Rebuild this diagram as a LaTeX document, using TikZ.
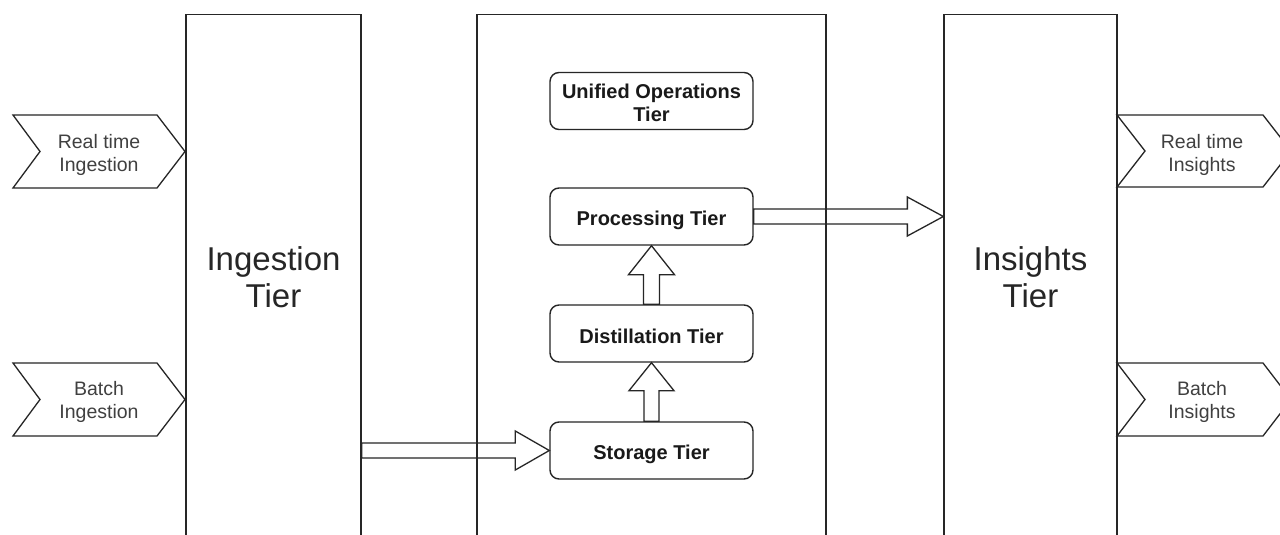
\documentclass[tikz,border=0pt]{standalone}
\usepackage{fontspec}
\setmainfont{Liberation Sans}
\usetikzlibrary{calc}
\newcommand{\lowtxt}[2]{\raisebox{-#1}[\height][\depth]{#2}}
\begin{document}
\begin{tikzpicture}[x=1pt,y=-1pt,
  tall/.style={draw=black!85, line width=1.3pt, minimum width=#1, minimum height=620pt, anchor=north, inner sep=0pt},
  tier/.style={draw=black!85, line width=1.4pt, rounded corners=9pt, minimum width=203pt, minimum height=57pt, inner sep=0pt, align=center, font=\fontsize{20}{23}\selectfont\bfseries, text=black!90},
  chevtxt/.style={align=center, font=\fontsize{19.5}{23}\selectfont, text=black!75, inner sep=0pt},
  bigtxt/.style={align=center, font=\fontsize{33}{37}\selectfont, text=black!85, inner sep=0pt},
  chev/.style={draw=black!85, line width=1.3pt, line join=miter},
  barrow/.style={draw=black!85, line width=1.3pt, line join=miter}]
\clip (0,0) rectangle (1280,535);
\fill[white] (0,0) rectangle (1280,535);

% tall tiers
\node[tall=175pt] (ingest) at (273.5,14) {};
\node[tall=349pt] (mid) at (651.5,14) {};
\node[tall=173pt] (insight) at (1030.5,14) {};
\node[bigtxt] (ingesttxt) at (273.5,277) {Ingestion\\Tier};
\node[bigtxt] (insighttxt) at (1030.5,277) {Insights\\Tier};

% inner tiers
\node[tier] (uni) at (651.5,101) {\lowtxt{1.5pt}{Unified Operations}\\\lowtxt{1.5pt}{Tier}};
\node[tier] (proc) at (651.5,216.5) {\lowtxt{4pt}{Processing Tier}};
\node[tier] (dist) at (651.5,333.5) {\lowtxt{2.5pt}{Distillation Tier}};
\node[tier] (stor) at (651.5,450.5) {\lowtxt{4pt}{Storage Tier}};

% chevrons left
\node[chevtxt] (rti) at (99,154.5) {Real time\\Ingestion};
\draw[chev] ($(rti)+(-86,-39.5)$) -- ++(144,0) -- ++(28,36.5) -- ++(-28,36.5) -- ++(-144,0) -- ++(27,-36.5) -- cycle;
\node[chevtxt] (bi) at (99,402) {Batch\\Ingestion};
\draw[chev] ($(bi)+(-86,-39)$) -- ++(144,0) -- ++(28,36.5) -- ++(-28,36.5) -- ++(-144,0) -- ++(27,-36.5) -- cycle;

% chevrons right
\node[chevtxt] (rtin) at (1202,154.5) {Real time\\Insights};
\draw[chev] ($(rtin)+(-85,-39.5)$) -- ++(146,0) -- ++(28,36) -- ++(-28,36) -- ++(-146,0) -- ++(28,-36) -- cycle;
\node[chevtxt] (bin) at (1202,402) {Batch\\Insights};
\draw[chev] ($(bin)+(-85,-39)$) -- ++(146,0) -- ++(28,36.5) -- ++(-28,36.5) -- ++(-146,0) -- ++(28,-36.5) -- cycle;

% block arrows
\draw[barrow] ($(ingest.east |- stor.west)+(0,-7.5)$) -- ($(stor.west)+(-34,-7.5)$) -- ($(stor.west)+(-34,-19.5)$) -- (stor.west) -- ($(stor.west)+(-34,19.5)$) -- ($(stor.west)+(-34,7.5)$) -- ($(ingest.east |- stor.west)+(0,7.5)$) -- cycle;
\draw[barrow] ($(proc.east)+(0,-7.5)$) -- ($(insight.west |- proc.east)+(-36,-7.5)$) -- ($(insight.west |- proc.east)+(-36,-19.5)$) -- (insight.west |- proc.east) -- ($(insight.west |- proc.east)+(-36,19.5)$) -- ($(insight.west |- proc.east)+(-36,7.5)$) -- ($(proc.east)+(0,7.5)$) -- cycle;
\draw[barrow] ($(dist.north)+(-8,0)$) -- ($(proc.south)+(-8,29)$) -- ($(proc.south)+(-23,29)$) -- (proc.south) -- ($(proc.south)+(23,29)$) -- ($(proc.south)+(8,29)$) -- ($(dist.north)+(8,0)$) -- cycle;
\draw[barrow] ($(stor.north)+(-7.5,0)$) -- ($(dist.south)+(-7.5,28)$) -- ($(dist.south)+(-22.5,28)$) -- (dist.south) -- ($(dist.south)+(22.5,28)$) -- ($(dist.south)+(7.5,28)$) -- ($(stor.north)+(7.5,0)$) -- cycle;
\end{tikzpicture}
\end{document}
